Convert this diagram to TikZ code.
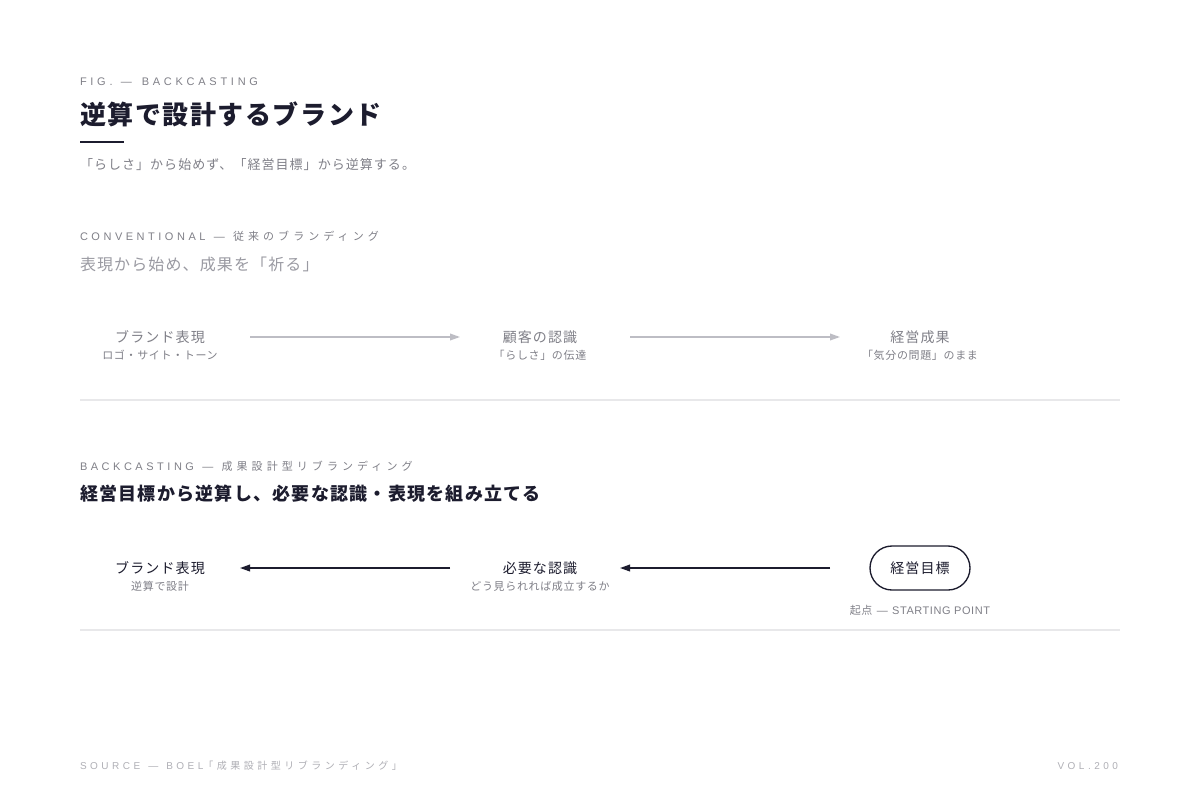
\documentclass[tikz,border=0pt]{standalone}
\usepackage{fontspec}
\setmainfont{Noto Sans CJK JP}
\newfontfamily\latin{Liberation Sans}
\usetikzlibrary{arrows.meta}
\definecolor{ink}{HTML}{1C1C2E}
\definecolor{mute}{HTML}{808088}
\definecolor{soft}{HTML}{9A9AA2}
\definecolor{faint}{HTML}{B0B0B6}
\definecolor{pale}{HTML}{BDBDC4}
\definecolor{rule}{HTML}{E8E8EA}
\newcommand{\fsz}[2]{\fontsize{#1}{#2}\selectfont}
\newcommand{\trk}[1]{\addfontfeature{LetterSpace=#1}}
\newcommand{\eng}[2][32]{{\latin\trk{#1}#2}}
\newcommand{\emd}[2]{\hskip#1—\hskip#2}
\tikzset{backcastFig/.style={x=0.75pt,y=-0.75pt,>={Triangle[length=7.5pt,width=5pt]},
                    every node/.style={inner sep=0pt,outer sep=0pt}},
         kicker/.style={anchor=west,text=mute,font=\fsz{8.25}{10}\trk{37}},
         stepname/.style={font=\fsz{10.5}{12}\trk{8}},
         stepsub/.style={font=\fsz{8.25}{10}\trk{6}},
         flow/.style={shorten <=67.5pt,shorten >=60pt},
         divider/.style={rule,line width=1.5pt}}

\begin{document}
\begin{tikzpicture}[backcastFig]
            \useasboundingbox[fill=white] (0,0) rectangle (1200,800);
            %HEADER
            \node [kicker] (fig) at (80,82) {\eng[34]{FIG.\emd{0.75em}{0.9em}BACKCASTING}};
            \node [anchor=west,text=ink,font=\fsz{19.5}{22}\bfseries\trk{6}] (title) at (80,114) {逆算で設計するブランド};
            \draw [ink,line width=1.5pt] (80,142) -- (124,142);
            \node [anchor=west,text=mute,font=\fsz{9.75}{12}\trk{8}] (lead) at (80,165) {「らしさ」から始めず、「経営目標」から逆算する。};

            %CONVENTIONAL
            \node [kicker] (convHead) at (80,236) {\eng{CONVENTIONAL\emd{0.75em}{0.75em}}従来のブランディング};
            \node [anchor=west,text=soft,font=\fsz{12}{14}\trk{7}] (convLead) at (80,264) {表現から始め、成果を「祈る」};
            \node [stepname,text=mute] (cBrand) at (160,337) {ブランド表現};
            \node [stepsub,text=mute] (cBrandSub) at (160,355) {ロゴ・サイト・トーン};
            \node [stepname,text=mute] (cPerc) at (540,337) {顧客の認識};
            \node [stepsub,text=mute] (cPercSub) at (540,355) {「らしさ」の伝達};
            \node [stepname,text=mute] (cGoal) at (920,337) {経営成果};
            \node [stepsub,text=mute] (cGoalSub) at (920,355) {「気分の問題」のまま};
            \draw [divider] (80,400) -- (1120,400);

            %BACKCASTING
            \node [kicker] (backHead) at (80,466) {\eng{BACKCASTING\emd{0.75em}{0.75em}}成果設計型リブランディング};
            \node [anchor=west,text=ink,font=\fsz{13.5}{16}\bfseries\trk{7}] (backLead) at (80,494) {経営目標から逆算し、必要な認識・表現を組み立てる};
            \node [stepname,text=ink] (bBrand) at (160,568) {ブランド表現};
            \node [stepsub,text=mute] (bBrandSub) at (160,586) {逆算で設計};
            \node [stepname,text=ink,draw=ink,line width=1pt,rounded corners=16.5pt,
                   minimum width=75pt,minimum height=33pt] (bGoal) at (920,568) {経営目標};
            \node [stepname,text=ink] (bPerc) at (540,568) {必要な認識};
            \node [stepsub,text=mute] (bPercSub) at (540,586) {どう見られれば成立するか};
            \node [stepsub,text=mute,font=\fsz{8.25}{10}\trk{4}] (bGoalSub) at (920,610) {起点\eng[5]{\emd{0.4em}{0.4em}STARTING POINT}};
            \draw [divider] (80,630) -- (1120,630);

            %FOOTER
            \node [anchor=west,text=faint,font=\fsz{7.5}{9}\trk{35}] (src) at (80,766) {\eng[35]{SOURCE\emd{0.8em}{0.8em}BOEL}「成果設計型リブランディング」};
            \node [anchor=east,text=faint,font=\fsz{7.5}{9}] (vol) at (1118,766) {\eng[35]{VOL.200}};

            %
            \path[->]
            %CONVENTIONAL
            (cBrand.center) edge [flow,pale,line width=1.1pt] (cPerc.center)
            (cPerc.center) edge [flow,pale,line width=1.1pt] (cGoal.center)

            %BACKCASTING
            (bPerc.center) edge [flow,ink,line width=1.2pt] (bBrand.center)
            (bGoal.center) edge [flow,ink,line width=1.2pt] (bPerc.center)
            ;
\end{tikzpicture}
\end{document}
